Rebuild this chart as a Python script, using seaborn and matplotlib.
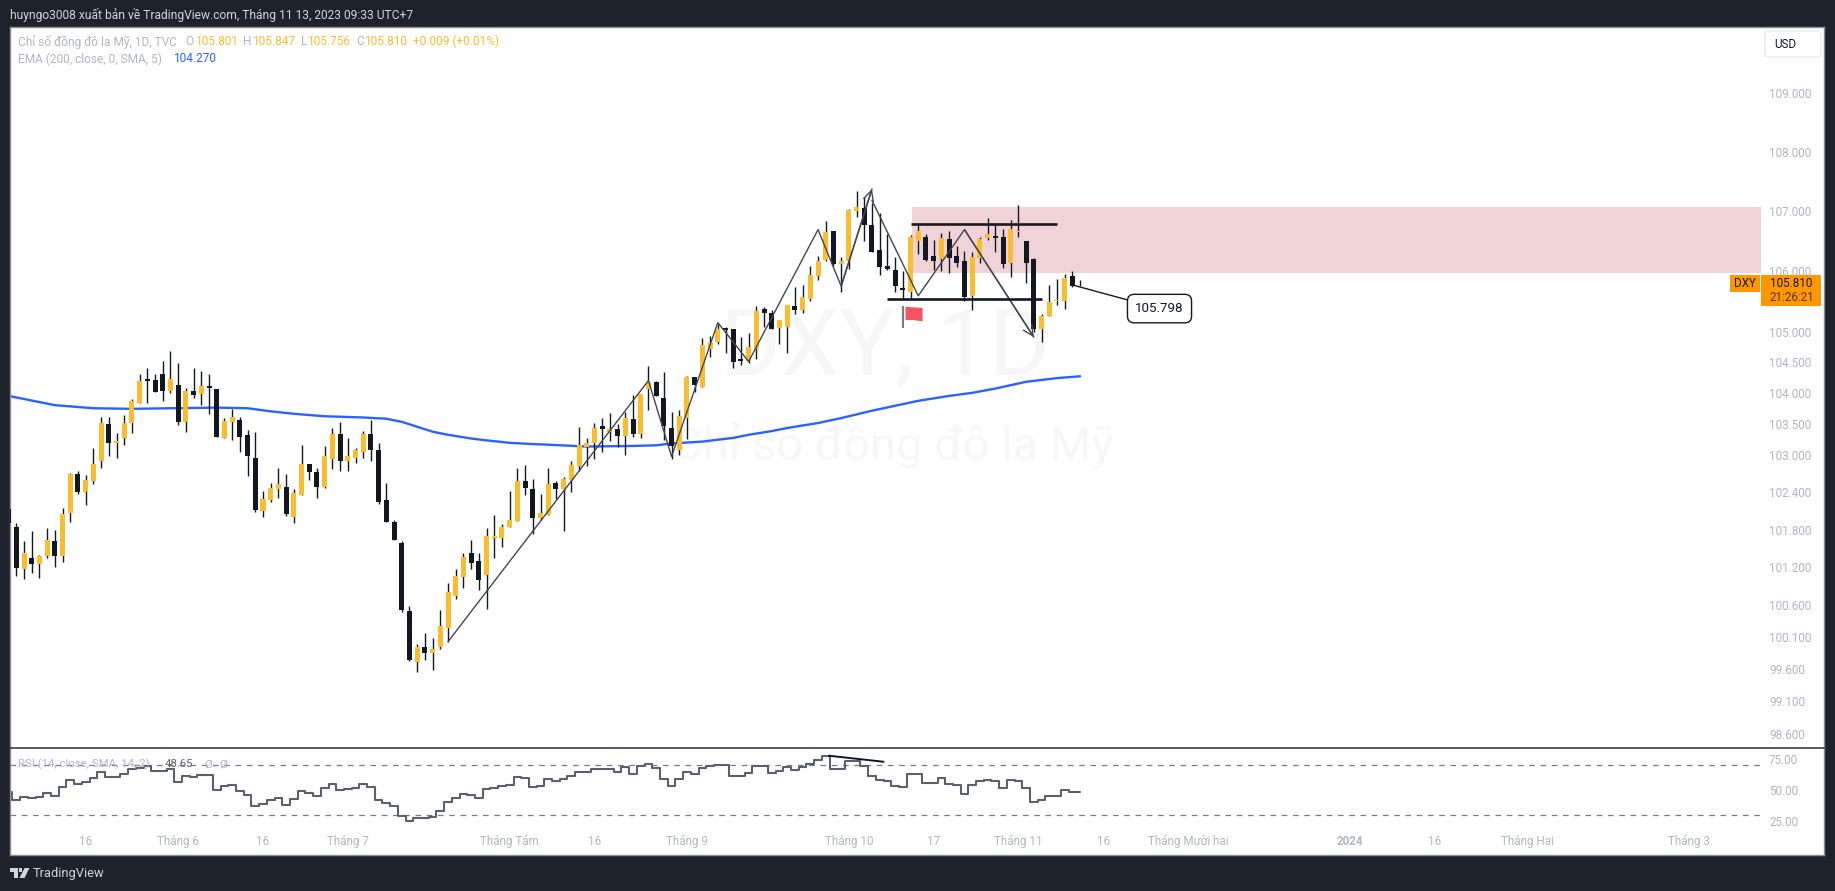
# DXY daily chart with EMA 200 and RSI panel, rebuilt from a TradingView snapshot
import seaborn as sns
import matplotlib.pyplot as plt
from matplotlib.patches import Polygon, Rectangle, FancyBboxPatch

opens = [102.13,
    101.84, 101.17, 101.34, 101.26, 101.38, 101.61, 101.38, 102.06, 102.69, 102.40,
    102.58, 102.89, 103.50, 103.18, 103.26, 103.51, 103.84, 104.23, 104.21, 104.30,
    104.03, 104.13, 103.53, 104.03, 103.98, 104.11, 104.06, 103.27, 103.53, 103.56,
    103.32, 102.95, 102.09, 102.27, 102.45, 102.48, 102.00, 102.35, 102.85, 102.72,
    102.48, 102.93, 103.34, 102.90, 102.95, 103.05, 103.34, 103.08, 102.27, 101.92,
    101.59, 100.51, 99.72, 99.95, 99.85, 99.95, 100.25, 100.75, 101.05, 101.42,
    101.30, 101.08, 101.66, 101.67, 101.84, 101.94, 102.58, 102.45, 101.98, 102.03,
    102.54, 102.45, 102.59, 102.82, 103.13, 103.19, 103.46, 103.37, 103.41, 103.30,
    103.58, 103.34, 104.06, 104.18, 103.92, 103.43, 103.08, 103.59, 104.26, 104.10,
    104.72, 104.83, 105.06, 105.05, 104.56, 104.52, 104.72, 105.37, 105.30, 105.06,
    105.08, 105.42, 105.36, 105.54, 105.92, 106.19, 106.67, 106.12, 106.16, 107.00,
    107.05, 106.77, 106.35, 106.09, 106.02, 105.72, 105.66, 106.50, 106.57, 106.25,
    106.20, 106.54, 106.25, 106.16, 105.59, 106.22, 106.55, 106.59, 106.57, 106.14,
    106.65, 106.50, 106.20, 105.05, 105.25, 105.51, 105.51, 105.92, 105.801]
highs = [102.13,
    101.90, 101.62, 101.77, 101.40, 101.83, 101.80, 102.14, 102.71, 102.74, 102.68,
    103.11, 103.61, 103.61, 103.35, 103.64, 103.90, 104.31, 104.41, 104.30, 104.52,
    104.68, 104.49, 104.08, 104.40, 104.36, 104.30, 104.06, 103.59, 103.74, 103.61,
    103.40, 103.37, 102.41, 102.54, 102.78, 102.69, 102.45, 103.16, 102.85, 102.79,
    103.14, 103.43, 103.53, 103.27, 103.11, 103.38, 103.56, 103.18, 102.54, 101.95,
    101.61, 100.59, 100.00, 100.17, 100.09, 100.53, 100.95, 101.17, 101.42, 101.64,
    101.43, 101.83, 102.03, 101.89, 102.41, 102.78, 102.84, 102.61, 102.37, 102.79,
    102.58, 102.64, 102.90, 103.45, 103.27, 103.51, 103.59, 103.67, 103.50, 103.69,
    103.97, 103.98, 104.44, 104.20, 104.34, 103.69, 103.72, 104.28, 104.26, 104.90,
    104.93, 105.13, 105.08, 105.05, 104.92, 104.97, 105.42, 105.41, 105.36, 105.20,
    105.44, 105.74, 105.77, 106.09, 106.25, 106.84, 106.67, 106.24, 107.04, 107.34,
    107.24, 107.14, 106.97, 106.62, 106.24, 106.00, 106.60, 106.79, 106.62, 106.52,
    106.64, 106.67, 106.42, 106.34, 106.32, 106.57, 106.89, 106.79, 106.70, 106.85,
    107.10, 106.50, 106.22, 105.29, 105.77, 105.87, 105.95, 106.00, 105.847]
lows = [101.90,
    101.06, 101.02, 101.11, 101.03, 101.35, 101.21, 101.29, 101.92, 102.37, 102.19,
    102.53, 102.79, 102.98, 102.95, 103.16, 103.35, 103.84, 103.84, 104.02, 103.87,
    104.00, 103.48, 103.37, 103.92, 103.80, 103.66, 103.29, 103.27, 103.24, 103.05,
    102.66, 102.08, 102.00, 102.24, 102.30, 102.02, 101.90, 102.35, 102.59, 102.30,
    102.46, 102.77, 102.74, 102.74, 102.87, 102.95, 102.90, 102.21, 101.92, 101.64,
    100.50, 99.73, 99.56, 99.75, 99.58, 99.92, 100.03, 100.70, 100.87, 101.17,
    100.84, 100.54, 101.35, 101.53, 101.84, 101.94, 102.35, 101.73, 101.95, 102.03,
    102.29, 101.78, 102.40, 102.74, 102.81, 102.93, 103.05, 103.22, 103.13, 103.00,
    103.29, 103.27, 103.72, 103.95, 103.24, 102.93, 103.00, 103.25, 104.02, 104.10,
    104.59, 104.80, 104.65, 104.41, 104.46, 104.49, 104.56, 105.08, 105.05, 104.80,
    104.65, 105.29, 105.31, 105.51, 105.86, 106.16, 106.09, 105.66, 106.04, 106.90,
    106.50, 106.32, 105.94, 106.02, 105.66, 105.54, 105.54, 106.29, 106.17, 106.02,
    106.00, 105.97, 106.07, 105.51, 105.36, 106.14, 106.52, 106.32, 106.05, 105.91,
    106.57, 105.81, 105.00, 104.83, 105.25, 105.44, 105.37, 105.74, 105.756]
closes = [101.90,
    101.19, 101.43, 101.26, 101.38, 101.64, 101.38, 102.05, 102.69, 102.40, 102.59,
    102.85, 103.51, 103.18, 103.22, 103.51, 103.87, 104.20, 104.20, 104.02, 104.03,
    104.23, 103.53, 104.03, 103.97, 104.11, 104.08, 103.29, 103.54, 103.61, 103.29,
    102.98, 102.11, 102.29, 102.46, 102.53, 102.05, 102.38, 102.85, 102.72, 102.48,
    102.97, 103.34, 102.90, 102.97, 103.08, 103.34, 103.08, 102.24, 101.92, 101.64,
    100.53, 99.75, 99.95, 99.85, 99.92, 100.28, 100.81, 101.06, 101.37, 101.27,
    101.00, 101.69, 101.69, 101.84, 101.95, 102.58, 102.46, 101.98, 102.06, 102.53,
    102.45, 102.61, 102.84, 103.16, 103.19, 103.43, 103.41, 103.41, 103.30, 103.59,
    103.34, 103.98, 104.18, 103.95, 103.46, 103.14, 103.62, 104.26, 104.13, 104.78,
    104.83, 105.05, 105.03, 104.51, 104.52, 104.75, 105.34, 105.31, 105.05, 105.20,
    105.44, 105.36, 105.57, 105.94, 106.17, 106.65, 106.11, 106.17, 107.02, 107.07,
    106.76, 106.32, 106.07, 106.04, 105.76, 105.69, 106.57, 106.67, 106.19, 106.17,
    106.55, 106.22, 106.14, 105.57, 106.24, 106.54, 106.62, 106.55, 106.12, 106.70,
    106.67, 106.14, 105.05, 105.25, 105.49, 105.52, 105.89, 105.76, 105.810]
rsi_values = [48.6,
    41.9, 44.6, 43.2, 44.3, 47.8, 45.1, 52.7, 58.4, 55.1, 56.5,
    59.5, 64.9, 60.5, 60.5, 63.0, 66.8, 68.1, 69.2, 65.7, 65.7,
    66.8, 56.5, 61.6, 60.8, 62.2, 61.9, 50.0, 53.2, 54.3, 49.5,
    45.9, 36.8, 38.9, 41.6, 43.2, 37.8, 42.7, 49.2, 47.3, 45.1,
    51.4, 54.9, 50.0, 50.8, 51.9, 54.9, 52.2, 41.6, 39.2, 37.3,
    29.2, 24.9, 27.3, 27.6, 28.1, 33.0, 40.5, 43.8, 47.0, 46.2,
    43.8, 51.1, 51.4, 53.2, 54.3, 60.8, 59.5, 52.7, 53.5, 58.6,
    57.3, 59.2, 61.4, 64.9, 64.9, 67.3, 67.3, 66.8, 64.9, 68.4,
    63.0, 69.7, 71.1, 67.6, 58.6, 53.2, 58.9, 64.9, 63.0, 67.6,
    69.5, 70.5, 70.5, 61.4, 61.4, 64.1, 69.5, 69.5, 64.1, 65.7,
    68.4, 66.5, 68.4, 71.1, 74.1, 77.6, 67.3, 67.3, 73.8, 73.8,
    69.2, 61.6, 58.4, 57.6, 53.2, 52.4, 62.7, 63.2, 55.9, 55.9,
    60.0, 54.9, 54.1, 46.8, 54.3, 57.6, 58.4, 57.6, 51.9, 58.4,
    57.6, 51.4, 40.3, 41.9, 45.4, 45.4, 50.3, 48.6, 48.65]
assert len(opens) == len(highs) == len(lows) == len(closes) == len(rsi_values)

ema_bars = [0, 6, 11, 16, 21, 27, 31, 34, 37, 41, 46, 49, 51, 53, 55, 57, 60, 62, 65, 68, 70, 75, 81, 84, 86,
            90, 94, 96, 99, 101, 103, 105, 108, 110, 112, 115, 118, 122, 125, 128, 132, 136, 139]
ema_values = [103.95, 103.80, 103.75, 103.74, 103.75, 103.76, 103.75, 103.70, 103.66, 103.62,
              103.60, 103.58, 103.53, 103.45, 103.37, 103.32, 103.26, 103.23, 103.19, 103.17,
              103.16, 103.13, 103.14, 103.15, 103.18, 103.21, 103.27, 103.32, 103.38, 103.43,
              103.47, 103.51, 103.59, 103.65, 103.71, 103.79, 103.87, 103.95, 104.00, 104.07,
              104.18, 104.24, 104.27]

zig1_bars = [57, 83, 86, 92, 96, 105, 108, 112]
zig1_prices = [100.03, 104.20, 102.97, 105.15, 104.51, 106.69, 105.75, 107.37]
zig2_bars = [112, 118, 124, 133]
zig2_prices = [107.18, 105.59, 106.69, 104.91]

price_ticks = [109, 108, 107, 106, 105, 104.5, 104, 103.5, 103, 102.4, 101.8, 101.2, 100.6,
               100.1, 99.6, 99.1, 98.6]
price_labels = ['109.000', '108.000', '107.000', '106.000', '105.000', '104.500', '104.000',
                '103.500', '103.000', '102.400', '101.800', '101.200', '100.600', '100.100',
                '99.600', '99.100', '98.600']
rsi_ticks = [75, 50, 25]
rsi_labels = ['75.00', '50.00', '25.00']
time_ticks = [10, 22, 33, 44, 65, 76, 88, 109, 120, 131, 142, 153, 174, 185, 197, 218]
time_labels = ['16', 'Tháng 6', '16', 'Tháng 7', 'Tháng Tám', '16', 'Tháng 9', 'Tháng 10', '17',
               'Tháng 11', '16', 'Tháng Mười hai', '2024', '16', 'Tháng Hai', 'Tháng 3']

W, H = 1835, 891
DARK = '#1e222d'
INK = '#131722'
UP = '#fbbc2d'
GREY = '#b2b5be'
LINE = '#434651'
ORANGE = '#ff9800'
BLUE = '#2962ff'

sns.set_style('white')
plt.rcParams['font.family'] = ['Roboto', 'DejaVu Sans']
plt.rcParams['font.size'] = 8.4


def fx(x):
    return x / W


def fy(y):
    return 1 - y / H


fig = plt.figure(figsize=(W / 100, H / 100), dpi=100, facecolor=DARK)
ax = fig.add_axes([fx(10), fy(748), fx(1824) - fx(10), fy(27.3) - fy(748)], facecolor='white')
ax_rsi = fig.add_axes([fx(10), fy(855), fx(1824) - fx(10), fy(748) - fy(855)], facecolor='white')

# watermark behind everything
ax.text(0.4825, 0.553, 'DXY, 1D', transform=ax.transAxes, fontsize=67, color='#f7f7f8',
        ha='center', va='center', zorder=0)
ax.text(0.4868, 0.4205, 'Chỉ số đồng đô la Mỹ', transform=ax.transAxes, fontsize=33.9, color='#f7f7f8',
        ha='center', va='center', zorder=0)

# supply zone
ax.fill_between([117.2, 227.3], 105.97, 107.07, color='#efd3d6', lw=0, zorder=1)

# EMA
sns.lineplot(x=ema_bars, y=ema_values, ax=ax, color=BLUE, lw=1.7, estimator=None, sort=False, zorder=2)

# candles
for i in range(len(opens)):
    col = UP if closes[i] >= opens[i] else INK
    ax.vlines(i, lows[i], highs[i], color=INK, lw=1.0, zorder=3)
    bottom = min(opens[i], closes[i])
    ax.bar(i, abs(closes[i] - opens[i]), bottom=bottom, width=0.65, color=col, lw=0, zorder=4)

# drawings
sns.lineplot(x=zig1_bars, y=zig1_prices, ax=ax, color=LINE, lw=1.0, estimator=None, sort=False, zorder=5)
sns.lineplot(x=zig2_bars, y=zig2_prices, ax=ax, color=LINE, lw=1.0, estimator=None, sort=False, zorder=5)
ax.annotate('', xy=(zig1_bars[-1], zig1_prices[-1]), xytext=(zig1_bars[-2], zig1_prices[-2]), zorder=5,
            arrowprops=dict(arrowstyle='->', color=LINE, lw=1.0, shrinkA=0, shrinkB=0, mutation_scale=18))
ax.annotate('', xy=(zig2_bars[-1], zig2_prices[-1]), xytext=(zig2_bars[-2], zig2_prices[-2]), zorder=5,
            arrowprops=dict(arrowstyle='->', color=LINE, lw=1.0, shrinkA=0, shrinkB=0, mutation_scale=18))
ax.hlines(106.79, 117, 136, color='#201820', lw=1.9, zorder=6)
ax.hlines(105.54, 114, 134, color=INK, lw=1.9, zorder=6)

# flag
ax.vlines(116, 105.06, 105.42, color='#787b86', lw=1.5, zorder=5)
ax.add_patch(Polygon([(116.35, 105.41), (117.4, 105.40), (118.56, 105.39),
                      (118.56, 105.17), (117.4, 105.19), (116.35, 105.19)],
                     closed=True, fc='#f7525f', ec='none', zorder=5))

# callout
ax.annotate('105.798', xy=(138, 105.77), xytext=(149.3, 105.38), fontsize=9.6, color=INK,
            ha='center', va='center', zorder=7,
            bbox=dict(boxstyle='round,pad=0.58,rounding_size=0.5', fc='white', ec=INK, lw=1.0),
            arrowprops=dict(arrowstyle='-', color=INK, lw=1.0, shrinkA=0, shrinkB=0))

ax.set_yscale('log')
ax.set_xlim(0.18, 235.5)
ax.set_ylim(98.38, 110.12)
ax.set_xticks([])
ax.set_yticks(price_ticks, price_labels)
ax.minorticks_off()
ax.yaxis.tick_right()
ax.tick_params(axis='y', length=0, pad=-39.6, labelsize=8.4, labelcolor=GREY)
ax.set_xlabel('')
ax.set_ylabel('')

# RSI panel
ax_rsi.hlines([70, 30], 0.18, 227.3, color='#787b86', lw=0.9, linestyles=(0, (4.5, 4.5)), zorder=1)
sns.lineplot(x=list(range(len(rsi_values))), y=rsi_values, ax=ax_rsi, color='#5d606b', lw=1.5,
             estimator=None, sort=False, drawstyle='steps-mid', zorder=2)
ax_rsi.plot([106.4, 113.5], [77.8, 72.9], color=INK, lw=1.4, zorder=3)
ax_rsi.set_xlim(0.18, 235.5)
ax_rsi.set_ylim(-2.7, 84.05)
ax_rsi.set_xticks(time_ticks, time_labels)
ax_rsi.set_yticks(rsi_ticks, rsi_labels)
ax_rsi.yaxis.tick_right()
ax_rsi.tick_params(axis='y', length=0, pad=-39.6, labelsize=8.4, labelcolor=GREY)
ax_rsi.tick_params(axis='x', length=0, pad=-14.4, labelsize=8.4, labelcolor=GREY)
for lab in ax_rsi.get_xticklabels():
    if lab.get_text() == '2024':
        lab.set_fontweight('bold')
ax_rsi.set_xlabel('')
ax_rsi.set_ylabel('')

for a in (ax, ax_rsi):
    for s in a.spines.values():
        s.set_color('#8b8e97')
        s.set_linewidth(1.0)
ax.spines['bottom'].set_visible(False)
ax_rsi.spines['top'].set_color('#2a2e39')
ax_rsi.spines['top'].set_linewidth(1.1)

# header and legend text
fig.text(fx(10), fy(14.7), 'huyngo3008 xuất bản về TradingView.com, Tháng 11 13, 2023 09:33 UTC+7',
         color='#d1d4dc', fontsize=8.67, va='center')
leg_y = 41.7
for x, s, c in [(18, 'Chỉ số đồng đô la Mỹ, 1D, TVC', GREY), (185.7, 'O', GREY), (195, '105.801', UP),
                (243, 'H', GREY), (252, '105.847', UP), (300.5, 'L', GREY), (306.7, '105.756', UP),
                (356, 'C', GREY), (364, '105.810', UP), (412.7, '+0.009 (+0.01%)', UP)]:
    fig.text(fx(x), fy(leg_y), s, color=c, fontsize=8.6, va='center')
fig.text(fx(18), fy(59), 'EMA (200, close, 0, SMA, 5)', color=GREY, fontsize=8.6, va='center')
fig.text(fx(172.7), fy(59), '104.270', color=BLUE, fontsize=8.6, va='center')

# RSI legend
fig.text(fx(18.4), fy(764), 'RSI (14, close, SMA, 14, 2)', color=GREY, fontsize=8.2, va='center')
fig.text(fx(165), fy(764), '48.65', color='#5d606b', fontsize=8.2, va='center')
fig.text(fx(204), fy(764), 'Ø', color=GREY, fontsize=8.2, va='center')
fig.text(fx(219), fy(764), 'Ø', color=GREY, fontsize=8.2, va='center')

# USD button
fig.add_artist(FancyBboxPatch((fx(1765), fy(57)), fx(56), fy(31) - fy(57),
                              boxstyle='round,pad=0,rounding_size=0.002', transform=fig.transFigure,
                              fc='white', ec='#e8eaf0', lw=1.0, mutation_aspect=2))
fig.text(fx(1774), fy(44.5), 'USD', color=INK, fontsize=8.4, va='center')

# price tags
fig.add_artist(Rectangle((fx(1730), fy(292)), fx(30), fy(275) - fy(292), transform=fig.transFigure,
                         fc=ORANGE, ec='none'))
fig.add_artist(Rectangle((fx(1761), fy(305.7)), fx(60), fy(275) - fy(305.7), transform=fig.transFigure,
                         fc=ORANGE, ec='none'))
fig.text(fx(1745), fy(283.5), 'DXY', color=INK, fontsize=8.4, ha='center', va='center')
fig.text(fx(1769.5), fy(283.5), '105.810', color=INK, fontsize=8.4, va='center')
fig.text(fx(1769.5), fy(297.5), '21:26:21', color='#4a3a10', fontsize=8.4, va='center')

# footer logo
logo = '#d1d4dc'
fig.add_artist(Polygon([(fx(10), fy(868)), (fx(18), fy(868)), (fx(18), fy(878)), (fx(14), fy(878)),
                        (fx(14), fy(871.5)), (fx(10), fy(871.5))], closed=True,
                       transform=fig.transFigure, fc=logo, ec='none'))
fig.add_artist(Polygon([(fx(24.5), fy(868)), (fx(29.5), fy(868)), (fx(24.5), fy(878)), (fx(19.5), fy(878))],
                       closed=True, transform=fig.transFigure, fc=logo, ec='none'))
fig.add_artist(Rectangle((fx(19), fy(871.5)), fx(3.4), fy(868) - fy(871.5), transform=fig.transFigure,
                         fc=logo, ec='none'))
fig.text(fx(33), fy(873), 'TradingView', color='#d1d4dc', fontsize=9.3, va='center')

fig.savefig('out.png', dpi=100, facecolor=DARK)
